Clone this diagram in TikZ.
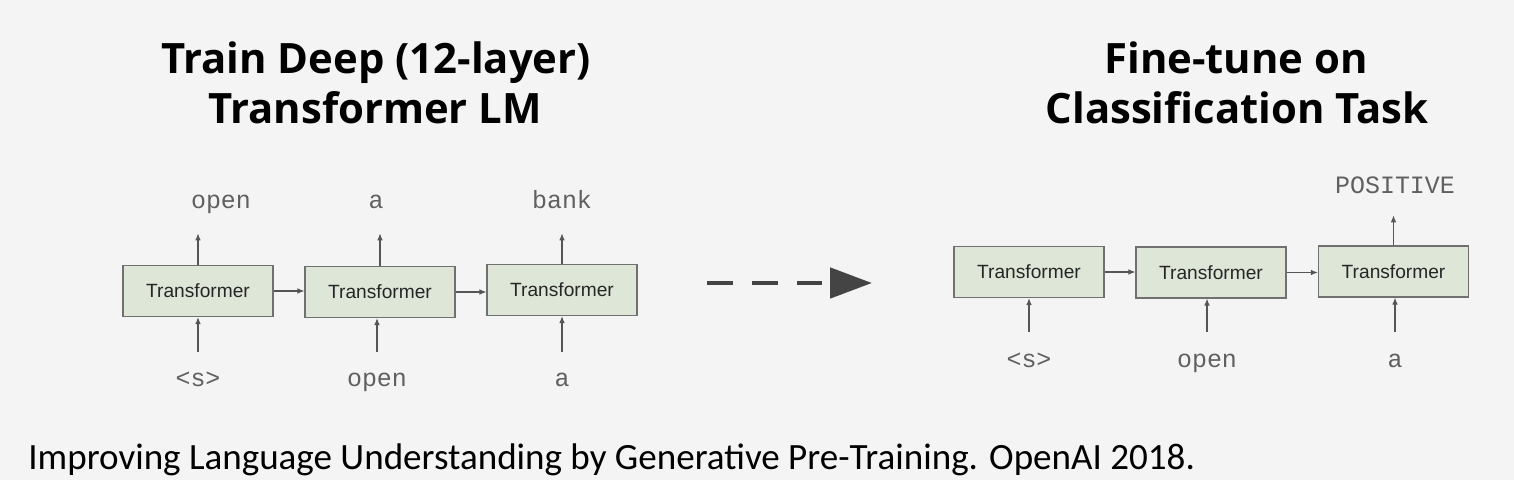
\documentclass[tikz,border=0pt]{standalone}
\usepackage{fontspec}
\usetikzlibrary{arrows.meta}
\newfontfamily\titlefont{Open Sans}
\newfontfamily\boxfont{Liberation Sans}
\newfontfamily\wordfont{Liberation Mono}
\newfontfamily\capfont{Carlito}
\definecolor{bgcol}{HTML}{F4F4F4}
\definecolor{boxfill}{HTML}{DEE6D8}
\definecolor{boxline}{HTML}{707070}
\definecolor{arrcol}{HTML}{555555}
\definecolor{wordcol}{HTML}{606060}
\definecolor{dashcol}{HTML}{444444}

\begin{document}
\begin{tikzpicture}[x=0.02cm,y=-0.02cm,
  tbox/.style={draw=boxline,fill=boxfill,line width=0.7pt,minimum width=3cm,minimum height=1.02cm,inner sep=0pt,font=\boxfont\fontsize{10.9}{12}\selectfont,text=black!85},
  word/.style={font=\wordfont\fontsize{14.2}{16}\selectfont,text=wordcol,inner sep=0pt,anchor=base,text height=0.28cm,text depth=0.1cm},
  arr/.style={draw=arrcol,line width=0.6pt,-{Latex[length=4pt,width=3.2pt]}},
  title/.style={font=\titlefont\bfseries\fontsize{23.8}{28}\selectfont,anchor=base,inner sep=0pt}]
\fill[bgcol] (0,0) rectangle (1514,480);
\useasboundingbox (0,0) rectangle (1514,480);

% titles
\node[title] (trainA) at (376,73) {Train Deep (12-layer)};
\node[title] (trainB) at (375,123) {Transformer LM};
\node[title] (tuneA) at (1236,73) {Fine-tune on};
\node[title] (tuneB) at (1237,123) {Classification Task};

% language model
\node[tbox] (lmA) at (198,291) {Transformer};
\node[tbox] (lmB) at (380,292) {Transformer};
\node[tbox] (lmC) at (562,290) {Transformer};
\node[word] (outA) at (221,208) {open};
\node[word] (outB) at (376,208) {a};
\node[word] (outC) at (562,208) {bank};
\node[word] (inA) at (198,386) {<s>};
\node[word] (inB) at (377,386) {open};
\node[word] (inC) at (562,386) {a};
\draw[arr] (lmA.east) -- (lmA.east -| lmB.west);
\draw[arr] (lmB.east) -- (lmB.east -| lmC.west);
\draw[arr,shorten >=0.4cm] (lmA.north) -- (lmA.north |- outA.south);
\draw[arr,shorten >=0.4cm] (lmB.north) -- (lmB.north |- outB.south);
\draw[arr,shorten >=0.4cm] (lmC.north) -- (lmC.north |- outC.south);
\draw[arr,shorten <=0.4cm] (inA.north) -- (inA.north |- lmA.south);
\draw[arr,shorten <=0.4cm] (inB.north) -- (inB.north |- lmB.south);
\draw[arr,shorten <=0.4cm] (inC.north) -- (inC.north |- lmC.south);

% dashed arrow
\coordinate (gapS) at (707,283);
\coordinate (gapE) at (872,283);
\draw[dashcol,line width=2.8pt,dash pattern=on 14.7pt off 10.8pt,-{Triangle[length=23.8pt,width=17pt]}] (gapS) -- (gapE);

% classifier
\node[tbox] (clsA) at (1029,272) {Transformer};
\node[tbox] (clsB) at (1211,272.5) {Transformer};
\node[tbox] (clsC) at (1393.5,271.5) {Transformer};
\node[word] (label) at (1395,193) {POSITIVE};
\node[word] (inD) at (1029,367) {<s>};
\node[word] (inE) at (1207,367) {open};
\node[word] (inF) at (1395,367) {a};
\draw[arr] (clsA.east) -- (clsA.east -| clsB.west);
\draw[arr] (clsB.east) -- (clsB.east -| clsC.west);
\draw[arr,shorten >=0.34cm] (clsC.north) -- (clsC.north |- label.south);
\draw[arr,shorten <=0.42cm] (inD.north) -- (inD.north |- clsA.south);
\draw[arr,shorten <=0.42cm] (inE.north) -- (inE.north |- clsB.south);
\draw[arr,shorten <=0.42cm] (inF.north) -- (inF.north |- clsC.south);

\node[font=\capfont\fontsize{21.1}{25}\selectfont,anchor=base west,inner sep=0pt] (ref) at (28,469) {Improving Language Understanding by Generative Pre-Training. OpenAI 2018.};
\end{tikzpicture}
\end{document}
